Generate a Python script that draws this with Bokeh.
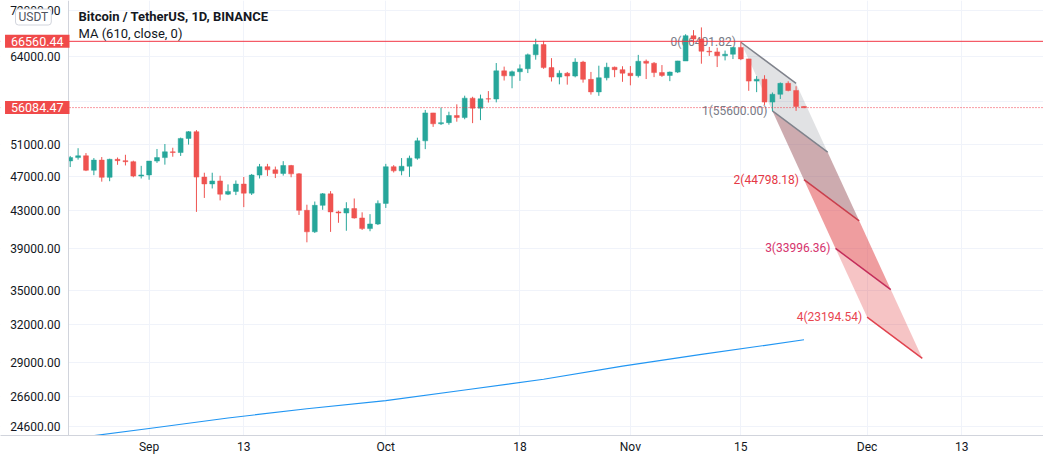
import numpy as np
import pandas as pd
from bokeh.plotting import figure
from bokeh.models import (ColumnDataSource, FixedTicker, NumeralTickFormatter, Span, Label,
                          Range1d, BoxAnnotation)
from bokeh.embed import file_html
from bokeh.resources import INLINE
from bokeh.core.properties import value

# ---------------- data ----------------
first_date = "2021-08-22"
opens = [48870, 49290, 49520, 47700, 48970, 46840, 49070, 48900, 48770, 46990,
         47130, 48850, 49290, 50030, 49940, 51790, 52700, 46870, 46050, 46400,
         44850, 45170, 46030, 44960, 47110, 48150, 47760, 47310, 48290, 47260,
         43010, 40690, 43570, 44880, 42840, 42720, 43210, 42170, 41030, 41520,
         43790, 48140, 47630, 48200, 49220, 51470, 55320, 53790, 53950, 54950,
         54660, 57470, 56010, 57370, 57350, 61670, 60880, 61530, 62010, 64280,
         66000, 62190, 60690, 61290, 60850, 63080, 60330, 58410, 60580, 62250,
         61860, 61300, 60910, 63220, 62900, 61400, 60940, 61470, 63270, 67530,
         66950, 64880, 64770, 64120, 64380, 65520, 63610, 60060, 60350, 56890,
         58050, 59710, 58620, 56250]
highs = [49500, 50500, 49870, 49230, 49360, 49150, 49300, 49650, 48900, 48250,
         48840, 50400, 51050, 50560, 51900, 52780, 52920, 47400, 47400, 47030,
         45990, 46460, 46880, 47250, 48490, 48500, 48160, 48840, 48370, 47350,
         43640, 44000, 44980, 45200, 42970, 43920, 44350, 42790, 42590, 44130,
         48500, 48340, 49230, 49540, 51890, 55750, 55330, 56100, 55490, 56560,
         57840, 57680, 58000, 58530, 62930, 62350, 61720, 62700, 64490, 67000,
         66640, 63730, 61750, 61500, 63710, 63290, 61500, 62500, 62980, 62360,
         62410, 62440, 64270, 63500, 63090, 62600, 61560, 63290, 67790, 68520,
         69000, 65600, 65460, 64990, 65550, 66400, 63620, 60840, 60980, 58320,
         59850, 60030, 59270, 56300]
lows = [48100, 49030, 47600, 47100, 46320, 46370, 48380, 48300, 46850, 46700,
        46550, 48620, 48400, 49400, 49500, 50970, 42840, 44410, 45510, 44130,
        44740, 44740, 43370, 44750, 46700, 47010, 46750, 47050, 46850, 42500,
        39600, 40570, 43070, 40680, 41650, 40800, 42100, 40890, 40750, 41410,
        43280, 47430, 47090, 46890, 49020, 50380, 53360, 53620, 53660, 54080,
        54420, 53880, 54300, 56820, 56850, 60150, 58960, 60100, 61320, 63480,
        62000, 60000, 59560, 59510, 60650, 59820, 58000, 57820, 60170, 60670,
        59950, 59410, 60620, 60380, 60680, 60720, 60050, 61320, 63270, 66220,
        62820, 64100, 62280, 63360, 63580, 63400, 58570, 58370, 56470, 55600,
        57350, 58490, 55610, 56000]
closes = [49290, 49520, 47700, 48970, 46840, 49070, 48900, 48770, 46990, 47130,
          48850, 49290, 50030, 49940, 51790, 52700, 46870, 46050, 46400, 44850,
          45170, 46030, 44960, 47110, 48150, 47760, 47310, 48290, 47260, 43010,
          40690, 43570, 44880, 42840, 42720, 43210, 42170, 41030, 41520, 43790,
          48140, 47630, 48200, 49220, 51470, 55320, 53790, 53950, 54950, 54660,
          57470, 56010, 57370, 57350, 61670, 60880, 61530, 62010, 64280, 66000,
          62190, 60690, 61290, 60850, 63080, 60330, 58410, 60580, 62250, 61860,
          61300, 60910, 63220, 62900, 61400, 60940, 61470, 63270, 67530, 66950,
          64880, 64770, 64120, 64380, 65520, 63610, 60060, 60350, 56890, 58050,
          59710, 58620, 56250, 56084.47]

# MA(610) at a few dates
ma_dates = ["2021-08-12", "2021-09-01", "2021-09-11", "2021-09-21", "2021-10-01",
            "2021-10-11", "2021-10-21", "2021-10-31", "2021-11-10", "2021-11-23"]
ma_values = [23220, 24480, 25150, 25760, 26310, 27040, 27800, 28760, 29640, 30785]

hline_price = 66560.44
last_price = 56084.47

# Fib-style projection drawing
fib_anchor_dates = ["2021-11-15", "2021-11-19", "2021-11-22"]
fib_anchor_prices = [66401.82, 55600.00, 59700.00]
fib_values = [66401.82, 55600.00, 44798.18, 33996.36, 23194.54]

y_ticks = [72000, 64000, 57000, 51000, 47000, 43000, 39000, 35000, 32000, 29000, 26600, 24600]
x_tick_dates = ["2021-09-01", "2021-09-13", "2021-10-01", "2021-10-18",
                "2021-11-01", "2021-11-15", "2021-12-01", "2021-12-13"]
x_tick_labels = ["Sep", "13", "Oct", "18", "Nov", "15", "Dec", "13"]

# ---------------- styling ----------------
UP = "#26a69a"
DOWN = "#ef5350"
FONT = "Roboto"
TXT = "#131722"
RED = "#f23645"
DAY = 86400000.0
PX_PER_DAY = 7.89
AXIS_PX = 68          # price-scale width on the left


def ms(d):
    return pd.Timestamp(d).timestamp() * 1000.0


dates = pd.date_range(first_date, periods=len(closes), freq="D")
x = np.array([d.timestamp() * 1000.0 for d in dates])
o = np.array(opens, float)
h = np.array(highs, float)
l = np.array(lows, float)
c = np.array(closes, float)
col = np.where(c >= o, UP, DOWN)
src = ColumnDataSource(dict(x=x, top=np.maximum(o, c), bottom=np.minimum(o, c),
                            h=h, l=l, color=col))

FW, FH = 1043, 435
sep1 = ms("2021-09-01")
x_start = sep1 - 148.6 / PX_PER_DAY * DAY
x_end = x_start + FW / PX_PER_DAY * DAY
x_axis_edge = x_start + AXIS_PX / PX_PER_DAY * DAY
y_end = 73965
y_start = 24040

p = figure(frame_width=FW, frame_height=FH, x_axis_type="datetime", y_axis_type="log",
           x_range=Range1d(x_start, x_end), y_range=Range1d(y_start, y_end),
           output_backend="svg", toolbar_location=None,
           min_border_left=0, min_border_right=0, min_border_top=0, min_border_bottom=0)
p.outline_line_color = None
p.background_fill_color = "white"
p.border_fill_color = "white"

# axes
xt = [int(ms(d)) for d in x_tick_dates]
p.xaxis.ticker = FixedTicker(ticks=xt)
p.xaxis.major_label_overrides = {t: s for t, s in zip(xt, x_tick_labels)}
p.yaxis.ticker = FixedTicker(ticks=y_ticks)
p.yaxis.formatter = NumeralTickFormatter(format="0.00")
p.yaxis.major_label_overrides = {57000: ""}
for ax in (p.xaxis[0], p.yaxis[0]):
    ax.major_tick_line_color = None
    ax.minor_tick_line_color = None
    ax.major_tick_out = 0
    ax.major_tick_in = 0
    ax.major_label_text_font = FONT
    ax.major_label_text_font_size = "12px"
    ax.major_label_text_color = TXT
p.xaxis.axis_line_color = "#d1d4dc"
p.yaxis.axis_line_color = None
p.yaxis.major_label_standoff = -(AXIS_PX - 8)
p.xaxis.major_label_standoff = 4
p.xgrid.ticker = FixedTicker(ticks=xt)
p.ygrid.ticker = FixedTicker(ticks=y_ticks)
p.xgrid.grid_line_color = "#f0f3fa"
p.ygrid.grid_line_color = "#f0f3fa"

# ---------------- fib projection ----------------
t0, t1, t2 = [ms(d) for d in fib_anchor_dates]
l0, l1, l2 = [np.log(v) for v in fib_anchor_prices]
fib_line_colors = ["#80838c", "#80838c", "#c9404e", "#c42d5a", "#e0434f"]
fib_label_colors = ["#787b86", "#787b86", "#e53845", "#d6336c", "#e8454f"]
band_colors = ["#787b86", "#9c5860", "#e03c40", "#e03c40"]
band_alpha = [0.22, 0.5, 0.5, 0.3]

starts_t = [t0 + k * (t1 - t0) for k in range(len(fib_values))]
starts_l = [l0 + k * (l1 - l0) for k in range(len(fib_values))]
ends_t = [s + (t2 - t0) for s in starts_t]
ends_l = [s + (l2 - l0) for s in starts_l]

bx, by = [], []
for k in range(len(fib_values) - 1):
    bx.append([starts_t[k], ends_t[k], ends_t[k + 1], starts_t[k + 1]])
    by.append([float(np.exp(starts_l[k])), float(np.exp(ends_l[k])),
               float(np.exp(ends_l[k + 1])), float(np.exp(starts_l[k + 1]))])
p.patches(bx, by, fill_color=band_colors, fill_alpha=band_alpha, line_color=None)
p.segment(x0=starts_t, y0=list(np.exp(starts_l)), x1=ends_t, y1=list(np.exp(ends_l)),
          line_color=fib_line_colors, line_width=1.5)
fib_text = ["%d(%.2f)" % (k, v) for k, v in enumerate(fib_values)]
p.text(x=starts_t, y=list(np.exp(starts_l)), text=fib_text, text_color=fib_label_colors,
       text_font=value(FONT), text_font_size="12px", text_align="right",
       text_baseline="middle", x_offset=-5)

# ---------------- MA ----------------
p.line([ms(d) for d in ma_dates], ma_values, line_color="#2196f3", line_width=1.2)

# ---------------- candles ----------------
p.segment(x0="x", y0="l", x1="x", y1="h", line_color="color", line_width=1, source=src)
p.vbar(x="x", width=0.62 * DAY, top="top", bottom="bottom", fill_color="color",
       line_color="color", line_width=0.5, source=src)

# ---------------- price lines ----------------
p.add_layout(Span(location=hline_price, dimension="width", line_color=RED, line_width=1,
                  level="glyph"))
p.add_layout(Span(location=last_price, dimension="width", line_color=RED,
                  line_width=1, line_dash="1 2", level="glyph"))

# price-scale area (white) and its border line
p.add_layout(BoxAnnotation(right=x_axis_edge, fill_color="white", fill_alpha=1.0,
                           line_color=None, level="glyph"))
p.add_layout(Span(location=x_axis_edge, dimension="height", line_color="#d1d4dc",
                  line_width=1))

for price in (hline_price, last_price):
    p.add_layout(Label(x=x_axis_edge, y=price, text="%.2f" % price, text_align="right",
                       text_baseline="middle", x_offset=1, text_color="white",
                       text_font=FONT, text_font_size="12.5px",
                       background_fill_color="#f04a4a", padding=(6, 2)))

p.add_layout(Label(x=x_start, y=y_end, text="USDT", text_align="left", text_baseline="middle",
                   x_offset=15, y_offset=-16.5, text_color="#50535e", text_font=FONT,
                   text_font_size="12px", background_fill_color="white",
                   border_line_color="#d1d4dc", padding=(3, 1), border_radius=3))
p.add_layout(Label(x=x_axis_edge, y=y_end, text="Bitcoin / TetherUS, 1D, BINANCE",
                   text_align="left", text_baseline="middle", x_offset=10, y_offset=-15.5,
                   text_color=TXT, text_font=FONT, text_font_size="13px",
                   text_font_style="bold"))
p.add_layout(Label(x=x_axis_edge, y=y_end, text="MA (610, close, 0)",
                   text_align="left", text_baseline="middle", x_offset=10, y_offset=-33,
                   text_color=TXT, text_font=FONT, text_font_size="13px"))

open("out.html", "w").write(file_html(p, INLINE))
